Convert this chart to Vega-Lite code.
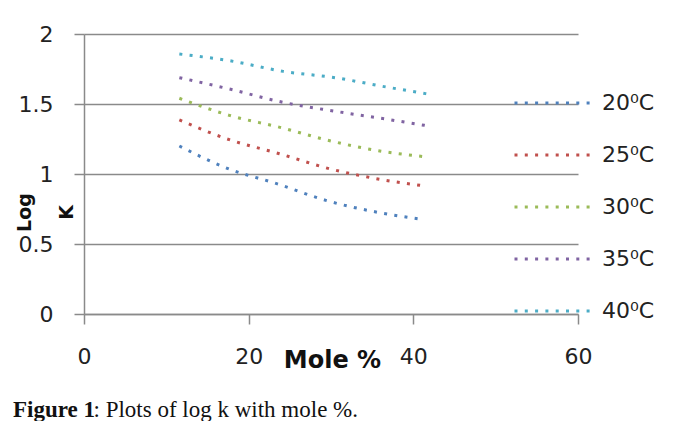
{
  "$schema": "https://vega.github.io/schema/vega-lite/v6.json",
  "width": 494,
  "height": 280,
  "autosize": {"type": "none"},
  "padding": {"left": 84, "top": 34, "right": 105, "bottom": 107},
  "background": "white",
  "config": {
    "view": {"stroke": null},
    "font": "DejaVu Sans"
  },
  "title": {
    "text": "Figure 1",
    "subtitle": "\u200b\u00a0\u00a0\u00a0\u00a0\u00a0\u00a0\u00a0\u00a0\u00a0\u00a0\u00a0\u00a0\u00a0\u00a0: Plots of log k with mole %.",
    "orient": "bottom",
    "anchor": "start",
    "frame": "group",
    "dx": -71,
    "offset": 27,
    "font": "Liberation Serif",
    "fontSize": 23,
    "fontWeight": "bold",
    "color": "#111111",
    "subtitleFont": "Liberation Serif",
    "subtitleFontSize": 23,
    "subtitleFontWeight": "normal",
    "subtitleColor": "#111111",
    "subtitlePadding": -23
  },
  "data": {
    "values": [
      {"mole": 11.58, "logk": 1.2, "temp": "20⁰C"},
      {"mole": 17.41, "logk": 1.04, "temp": "20⁰C"},
      {"mole": 23.4, "logk": 0.931, "temp": "20⁰C"},
      {"mole": 29.47, "logk": 0.81, "temp": "20⁰C"},
      {"mole": 35.71, "logk": 0.726, "temp": "20⁰C"},
      {"mole": 40.73, "logk": 0.679, "temp": "20⁰C"},
      {"mole": 11.58, "logk": 1.386, "temp": "25⁰C"},
      {"mole": 17.65, "logk": 1.245, "temp": "25⁰C"},
      {"mole": 23.73, "logk": 1.145, "temp": "25⁰C"},
      {"mole": 29.8, "logk": 1.038, "temp": "25⁰C"},
      {"mole": 35.95, "logk": 0.962, "temp": "25⁰C"},
      {"mole": 41.1, "logk": 0.917, "temp": "25⁰C"},
      {"mole": 11.58, "logk": 1.541, "temp": "30⁰C"},
      {"mole": 17.65, "logk": 1.419, "temp": "30⁰C"},
      {"mole": 23.81, "logk": 1.333, "temp": "30⁰C"},
      {"mole": 29.96, "logk": 1.236, "temp": "30⁰C"},
      {"mole": 36.2, "logk": 1.162, "temp": "30⁰C"},
      {"mole": 41.3, "logk": 1.124, "temp": "30⁰C"},
      {"mole": 11.58, "logk": 1.688, "temp": "35⁰C"},
      {"mole": 17.81, "logk": 1.605, "temp": "35⁰C"},
      {"mole": 24.01, "logk": 1.514, "temp": "35⁰C"},
      {"mole": 30.28, "logk": 1.45, "temp": "35⁰C"},
      {"mole": 36.6, "logk": 1.393, "temp": "35⁰C"},
      {"mole": 41.62, "logk": 1.345, "temp": "35⁰C"},
      {"mole": 11.58, "logk": 1.857, "temp": "40⁰C"},
      {"mole": 17.9, "logk": 1.807, "temp": "40⁰C"},
      {"mole": 24.21, "logk": 1.733, "temp": "40⁰C"},
      {"mole": 30.49, "logk": 1.688, "temp": "40⁰C"},
      {"mole": 36.76, "logk": 1.621, "temp": "40⁰C"},
      {"mole": 41.82, "logk": 1.571, "temp": "40⁰C"}
    ]
  },
  "mark": {
    "type": "line",
    "interpolate": "monotone",
    "strokeWidth": 3,
    "strokeDash": [3, 7.3],
    "strokeCap": "butt"
  },
  "encoding": {
    "x": {
      "field": "mole",
      "type": "quantitative",
      "scale": {"domain": [0, 60], "nice": false, "zero": false},
      "axis": {
        "values": [0, 20, 40, 60],
        "labelFlush": false,
        "title": "Mole %",
        "titleFont": "DejaVu Sans",
        "titleFontSize": 24,
        "titleFontWeight": "bold",
        "titleColor": "#111111",
        "titleX": 248,
        "titleY": 53,
        "titleAnchor": "middle",
        "titleBaseline": "alphabetic",
        "grid": false,
        "domainColor": "#8a8a8a",
        "domainWidth": 1.5,
        "tickColor": "#8a8a8a",
        "tickWidth": 1.5,
        "tickSize": 10,
        "labelFontSize": 22,
        "labelColor": "#222222",
        "labelPadding": 22,
        "labelFont": "DejaVu Sans"
      }
    },
    "y": {
      "field": "logk",
      "type": "quantitative",
      "scale": {"domain": [0, 2], "nice": false},
      "axis": {
        "values": [0, 0.5, 1, 1.5, 2],
        "format": "~g",
        "labelFlush": false,
        "title": ["Log", "K"],
        "titleFont": "DejaVu Sans",
        "titleFontSize": 19,
        "titleFontWeight": "bold",
        "titleColor": "#111111",
        "titleAngle": -90,
        "titleLineHeight": 42,
        "titleX": -54,
        "titleY": 178,
        "titleAlign": "center",
        "titleBaseline": "alphabetic",
        "grid": true,
        "gridColor": "#8a8a8a",
        "gridWidth": 1.5,
        "domainColor": "#8a8a8a",
        "domainWidth": 1.5,
        "tickColor": "#8a8a8a",
        "tickWidth": 1.5,
        "tickSize": 10,
        "labelFontSize": 22,
        "labelColor": "#222222",
        "labelPadding": 21,
        "labelFont": "DejaVu Sans"
      }
    },
    "color": {
      "field": "temp",
      "type": "nominal",
      "scale": {
        "domain": ["20⁰C", "25⁰C", "30⁰C", "35⁰C", "40⁰C"],
        "range": ["#4F81BD", "#C0504D", "#9BBB59", "#8064A2", "#4BACC6"]
      },
      "legend": {
        "title": null,
        "orient": "none",
        "legendX": 429,
        "legendY": 28.6,
        "direction": "vertical",
        "symbolType": "stroke",
        "symbolSize": 6084,
        "symbolStrokeWidth": 3,
        "symbolDash": [3, 7.3],
        "labelFont": "DejaVu Sans",
        "labelFontSize": 22,
        "labelColor": "#222222",
        "labelOffset": 8,
        "rowPadding": 0
      }
    }
  }
}
